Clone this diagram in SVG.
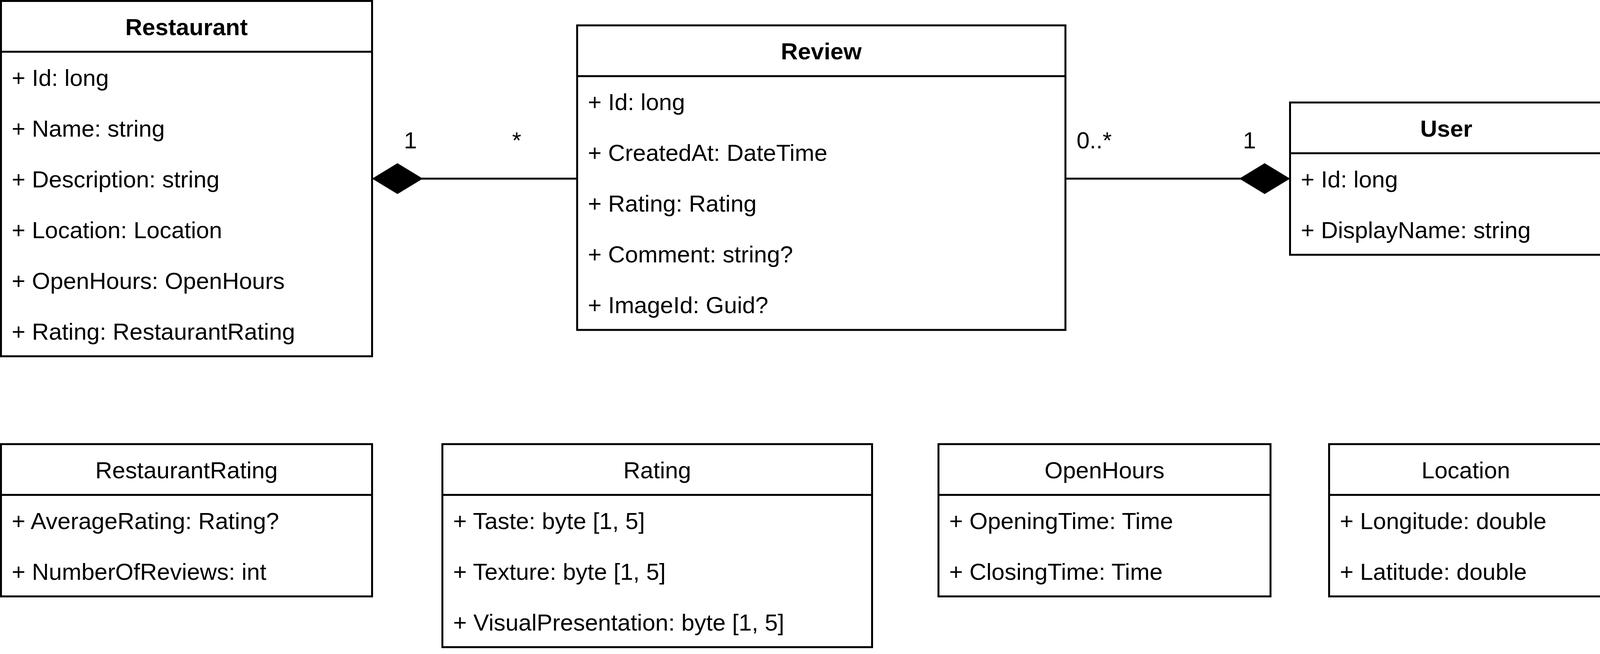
<svg xmlns="http://www.w3.org/2000/svg" width="4105" height="1675" viewBox="0 0 4105 1675">
<style>
.box{fill:#ffffff;stroke:#000000;stroke-width:5}
.sep{stroke:#000000;stroke-width:5;fill:none}
.t{font-family:"Liberation Sans",Arial,sans-serif;font-size:60px;fill:#000000}
.h{text-anchor:middle}
.b{font-weight:bold}
.edge{stroke:#000000;stroke-width:5;fill:none}
</style>
<defs>
<marker id="diamond" viewBox="0 0 130 79" refX="130" refY="39.5" markerWidth="130" markerHeight="79" markerUnits="userSpaceOnUse" orient="auto-start-reverse">
<path d="M0,39.5 L65,0 L130,39.5 L65,79 Z" fill="#000000" stroke="none"/>
</marker>
</defs>
<rect width="4105" height="1675" fill="#ffffff"/>
<g id="connectors">
<path class="edge" d="M952.5,457.5 L1477.5,457.5" marker-start="url(#diamond)"/>
<path class="edge" d="M2727.5,457.5 L3302.5,457.5" marker-end="url(#diamond)"/>
<text class="t" x="1034" y="380">1</text>
<text class="t" x="1311" y="380">*</text>
<text class="t" x="2756" y="380">0..*</text>
<text class="t" x="3182" y="380">1</text>
</g>
<g id="Restaurant">
<rect class="box" x="2.5" y="2.5" width="950" height="910"/>
<line class="sep" x1="2.5" y1="132.5" x2="952.5" y2="132.5"/>
<text class="t h b" x="477.5" y="89.5">Restaurant</text>
<text class="t" x="30" y="219.5">+ Id: long</text>
<text class="t" x="30" y="349.5">+ Name: string</text>
<text class="t" x="30" y="479.5">+ Description: string</text>
<text class="t" x="30" y="609.5">+ Location: Location</text>
<text class="t" x="30" y="739.5">+ OpenHours: OpenHours</text>
<text class="t" x="30" y="869.5">+ Rating: RestaurantRating</text>
</g>
<g id="Review">
<rect class="box" x="1477.5" y="65" width="1250" height="780"/>
<line class="sep" x1="1477.5" y1="195" x2="2727.5" y2="195"/>
<text class="t h b" x="2102.5" y="152">Review</text>
<text class="t" x="1505" y="282">+ Id: long</text>
<text class="t" x="1505" y="412">+ CreatedAt: DateTime</text>
<text class="t" x="1505" y="542">+ Rating: Rating</text>
<text class="t" x="1505" y="672">+ Comment: string?</text>
<text class="t" x="1505" y="802">+ ImageId: Guid?</text>
</g>
<g id="User">
<rect class="box" x="3302.5" y="262.5" width="800" height="390"/>
<line class="sep" x1="3302.5" y1="392.5" x2="4102.5" y2="392.5"/>
<text class="t h b" x="3702.5" y="349.5">User</text>
<text class="t" x="3330" y="479.5">+ Id: long</text>
<text class="t" x="3330" y="609.5">+ DisplayName: string</text>
</g>
<g id="RestaurantRating">
<rect class="box" x="2.5" y="1137.5" width="950" height="390"/>
<line class="sep" x1="2.5" y1="1267.5" x2="952.5" y2="1267.5"/>
<text class="t h" x="477.5" y="1224.5">RestaurantRating</text>
<text class="t" x="30" y="1354.5">+ AverageRating: Rating?</text>
<text class="t" x="30" y="1484.5">+ NumberOfReviews: int</text>
</g>
<g id="Rating">
<rect class="box" x="1132.5" y="1137.5" width="1100" height="520"/>
<line class="sep" x1="1132.5" y1="1267.5" x2="2232.5" y2="1267.5"/>
<text class="t h" x="1682.5" y="1224.5">Rating</text>
<text class="t" x="1160" y="1354.5">+ Taste: byte [1, 5]</text>
<text class="t" x="1160" y="1484.5">+ Texture: byte [1, 5]</text>
<text class="t" x="1160" y="1614.5">+ VisualPresentation: byte [1, 5]</text>
</g>
<g id="OpenHours">
<rect class="box" x="2402.5" y="1137.5" width="850" height="390"/>
<line class="sep" x1="2402.5" y1="1267.5" x2="3252.5" y2="1267.5"/>
<text class="t h" x="2827.5" y="1224.5">OpenHours</text>
<text class="t" x="2430" y="1354.5">+ OpeningTime: Time</text>
<text class="t" x="2430" y="1484.5">+ ClosingTime: Time</text>
</g>
<g id="Location">
<rect class="box" x="3402.5" y="1137.5" width="700" height="390"/>
<line class="sep" x1="3402.5" y1="1267.5" x2="4102.5" y2="1267.5"/>
<text class="t h" x="3752.5" y="1224.5">Location</text>
<text class="t" x="3430" y="1354.5">+ Longitude: double</text>
<text class="t" x="3430" y="1484.5">+ Latitude: double</text>
</g>
</svg>
